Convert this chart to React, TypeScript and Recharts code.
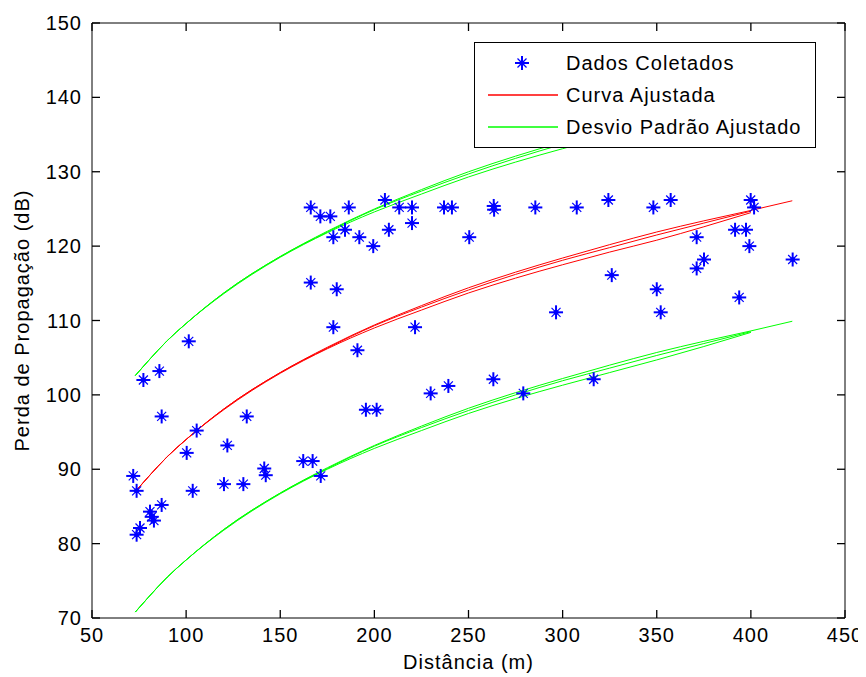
import { ComposedChart, Line, Scatter, XAxis, YAxis, Legend, Text } from "recharts";

// measured points (distance in m, loss in dB)
const distX = [
  71.9, 73.7, 73.7, 75.5, 77.3, 80.8, 81.7, 82.9, 85.8, 87.0, 87.0, 100.3, 101.4, 103.5, 105.6,
  120.1, 121.9, 130.4, 132.2, 141.5, 142.3, 162.2, 167.2, 171.5, 166.2, 171.3, 176.6, 186.4,
  178.2, 184.4, 192.0, 199.4, 205.6, 207.7, 213.2, 220.0, 220.0, 237.0, 241.2, 250.4, 263.4,
  263.6, 285.5, 307.5, 324.3, 348.2, 357.4, 166.2, 180.0, 178.2, 191.0, 221.6, 296.5, 195.5,
  201.2, 229.9, 239.3, 263.2, 279.1, 316.5, 326.1, 350.0, 352.1, 371.2, 371.2, 375.1, 391.6,
  397.4, 399.2, 399.9, 401.7, 393.8, 422.2,
];
const lossY = [
  89.1, 87.1, 81.2, 82.1, 102.0, 84.3, 83.6, 83.1, 103.2, 85.2, 97.1, 92.2, 107.2, 87.1, 95.2,
  88.0, 93.2, 88.0, 97.1, 90.1, 89.2, 91.1, 91.1, 89.1, 125.2, 124.0, 124.0, 125.2,
  121.2, 122.2, 121.2, 120.0, 126.2, 122.2, 125.2, 125.2, 123.1, 125.2, 125.2, 121.2, 125.4,
  124.9, 125.2, 125.2, 126.2, 125.2, 126.2, 115.1, 114.2, 109.1, 106.0, 109.1, 111.1, 98.0,
  98.0, 100.2, 101.2, 102.1, 100.2, 102.1, 116.1, 114.2, 111.1, 121.2, 117.0, 118.2, 122.2,
  122.2, 120.0, 126.2, 125.2, 113.1, 118.2,
];

// fitted curves, read along the distance grid
const curveX = [73, 80, 90, 100, 120, 150, 175, 200, 225, 250, 275, 300, 325, 350, 375, 400, 422];
const redA = [87.0, 89.0, 91.7, 94.0, 98.1, 103.0, 106.4, 109.4, 112.0, 114.4, 116.5, 118.4, 120.2, 121.9, 123.4, 124.8, 126.1];
const redB = [87.0, 89.0, 91.7, 94.0, 98.1, 103.0, 106.3, 109.3, 111.8, 114.1, 116.2, 118.1, 119.8, 121.5, 123.1, 124.7];
const redC = [87.0, 89.0, 91.7, 94.0, 98.0, 102.9, 106.2, 109.0, 111.4, 113.7, 115.7, 117.5, 119.2, 120.8, 122.6, 124.5];
const upA = [102.6, 104.6, 107.3, 109.6, 113.7, 118.6, 122.0, 125.0, 127.6, 130.0, 132.1, 134.0, 135.8, 137.5, 139.0, 140.4, 141.7];
const upB = [102.6, 104.6, 107.3, 109.6, 113.7, 118.6, 121.9, 124.9, 127.4, 129.7, 131.8, 133.7, 135.4, 137.1, 138.7, 140.3];
const upC = [102.6, 104.6, 107.3, 109.6, 113.6, 118.5, 121.8, 124.6, 127.0, 129.3, 131.3, 133.1, 134.8, 136.4, 138.2, 140.1];
const loA = [70.8, 72.8, 75.5, 77.8, 81.9, 86.8, 90.2, 93.2, 95.8, 98.2, 100.3, 102.2, 104.0, 105.7, 107.2, 108.6, 109.9];
const loB = [70.8, 72.8, 75.5, 77.8, 81.9, 86.8, 90.1, 93.1, 95.6, 97.9, 100.0, 101.9, 103.6, 105.3, 106.9, 108.5];
const loC = [70.8, 72.8, 75.5, 77.8, 81.8, 86.7, 90.0, 92.8, 95.2, 97.5, 99.5, 101.3, 103.0, 104.7, 106.5, 108.4];

const xTicks = [50, 100, 150, 200, 250, 300, 350, 400, 450];
const yTicks = [70, 80, 90, 100, 110, 120, 130, 140, 150];
const legendOrder = ["Dados Coletados", "Curva Ajustada", "Desvio Padrão Ajustado"];

const points = distX.map((x, i) => ({ x, y: lossY[i] }));
const toPts = (ys: number[]) => ys.map((y, i) => ({ x: curveX[i], y }));

const font = "'Liberation Sans', Arial, sans-serif";
const GAP = 10; // label gap from axis
const TICK = 8; // inward tick length

// MATLAB-style '*' marker
const Asterisk = (props: any) => {
  const { cx, cy } = props;
  if (cx == null || cy == null) return <g />;
  return (
    <g stroke="#0000ff" fill="#0000ff">
      <line x1={cx - 7} y1={cy} x2={cx + 7} y2={cy} strokeWidth={2} />
      <line x1={cx} y1={cy - 7} x2={cx} y2={cy + 7} strokeWidth={2} />
      <line x1={cx - 4.5} y1={cy - 4.5} x2={cx + 4.5} y2={cy + 4.5} strokeWidth={1.2} />
      <line x1={cx - 4.5} y1={cy + 4.5} x2={cx + 4.5} y2={cy - 4.5} strokeWidth={1.2} />
      <circle cx={cx} cy={cy} r={2.5} stroke="none" />
    </g>
  );
};

// ticks drawn inward, labels outside
const BottomTick = (props: any) => {
  const { x, y, payload } = props;
  return (
    <g>
      <path d={`M${x},${y - GAP}V${y - GAP - TICK}`} stroke="#000" strokeWidth={1.3} fill="none" />
      <Text x={x} y={y} textAnchor="middle" verticalAnchor="start" fontSize={20} fontFamily={font} letterSpacing={1} fill="#000">
        {payload.value}
      </Text>
    </g>
  );
};
const LeftTick = (props: any) => {
  const { x, y, payload } = props;
  return (
    <g>
      <path d={`M${x + GAP},${y}H${x + GAP + TICK}`} stroke="#000" strokeWidth={1.3} fill="none" />
      <Text x={x} y={y} textAnchor="end" verticalAnchor="middle" fontSize={20} fontFamily={font} letterSpacing={1} fill="#000">
        {payload.value}
      </Text>
    </g>
  );
};
const TopTick = (props: any) => (
  <path d={`M${props.x},${props.y}V${props.y + TICK}`} stroke="#000" strokeWidth={1.3} fill="none" />
);
const RightTick = (props: any) => (
  <path d={`M${props.x},${props.y}H${props.x - TICK}`} stroke="#000" strokeWidth={1.3} fill="none" />
);

// axis titles placed from the axis viewBox
const XTitle = (props: any) => {
  const vb = props.viewBox;
  return (
    <Text x={vb.x + vb.width / 2} y={vb.y + vb.height - 8} textAnchor="middle" verticalAnchor="end" fontSize={20} fontFamily={font} letterSpacing={1} fill="#000">
      Distância (m)
    </Text>
  );
};
const YTitle = (props: any) => {
  const vb = props.viewBox;
  const cx = vb.x + 14;
  const cy = vb.y + vb.height / 2;
  return (
    <Text x={cx} y={cy} angle={-90} textAnchor="middle" verticalAnchor="middle" fontSize={20} fontFamily={font} letterSpacing={1} fill="#000">
      Perda de Propagação (dB)
    </Text>
  );
};

const renderLegend = (props: any) => {
  const items = (props.payload || [])
    .filter((p: any) => legendOrder.includes(p.value))
    .sort((a: any, b: any) => legendOrder.indexOf(a.value) - legendOrder.indexOf(b.value));
  return (
    <div
      style={{
        width: 342,
        height: 106,
        boxSizing: "border-box",
        border: "1px solid #000",
        background: "#fff",
        paddingTop: 4,
        fontFamily: font,
        fontSize: 20,
        letterSpacing: 1,
        color: "#000",
      }}
    >
      {items.map((entry: any) => (
        <div key={entry.value} style={{ display: "flex", alignItems: "center", height: 32 }}>
          <svg width={90} height={20} style={{ marginLeft: 13 }}>
            {entry.value === legendOrder[0] ? (
              <Asterisk cx={34} cy={10} />
            ) : (
              <line x1={0} y1={10} x2={70} y2={10} stroke={entry.color} strokeWidth={1.5} />
            )}
          </svg>
          <span style={{ marginLeft: -12 }}>{entry.value}</span>
        </div>
      ))}
    </div>
  );
};

export default function App() {
  return (
    <div style={{ width: 858, height: 669 }}>
      <ComposedChart width={858} height={669} margin={{ top: 14, right: 20, bottom: 0, left: 0 }}>
        <XAxis
          type="number"
          dataKey="x"
          domain={[50, 450]}
          ticks={xTicks}
          height={59}
          tickSize={0}
          tickMargin={GAP}
          tickLine={false}
          stroke="#000"
          tick={BottomTick}
          label={XTitle}
        />
        <XAxis
          xAxisId="top"
          orientation="top"
          type="number"
          dataKey="x"
          domain={[50, 450]}
          ticks={xTicks}
          height={1}
          tickSize={0}
          tickMargin={0}
          tickLine={false}
          tick={TopTick}
          stroke="#000"
        />
        <YAxis
          type="number"
          domain={[70, 150]}
          ticks={yTicks}
          width={84}
          tickSize={0}
          tickMargin={GAP}
          tickLine={false}
          stroke="#000"
          tick={LeftTick}
          label={YTitle}
        />
        <YAxis
          yAxisId="right"
          orientation="right"
          type="number"
          domain={[70, 150]}
          ticks={yTicks}
          width={1}
          tickSize={0}
          tickMargin={0}
          tickLine={false}
          tick={RightTick}
          stroke="#000"
        />
        <Line type="monotone" dataKey="y" name="Curva Ajustada" data={toPts(redA)} stroke="#ff0000" dot={false} isAnimationActive={false} />
        <Line type="monotone" dataKey="y" name="redB" data={toPts(redB)} stroke="#ff0000" dot={false} isAnimationActive={false} legendType="none" />
        <Line type="monotone" dataKey="y" name="redC" data={toPts(redC)} stroke="#ff0000" dot={false} isAnimationActive={false} legendType="none" />
        <Line type="monotone" dataKey="y" name="Desvio Padrão Ajustado" data={toPts(upA)} stroke="#00ff00" dot={false} isAnimationActive={false} />
        <Line type="monotone" dataKey="y" name="upB" data={toPts(upB)} stroke="#00ff00" dot={false} isAnimationActive={false} legendType="none" />
        <Line type="monotone" dataKey="y" name="upC" data={toPts(upC)} stroke="#00ff00" dot={false} isAnimationActive={false} legendType="none" />
        <Line type="monotone" dataKey="y" name="loA" data={toPts(loA)} stroke="#00ff00" dot={false} isAnimationActive={false} legendType="none" />
        <Line type="monotone" dataKey="y" name="loB" data={toPts(loB)} stroke="#00ff00" dot={false} isAnimationActive={false} legendType="none" />
        <Line type="monotone" dataKey="y" name="loC" data={toPts(loC)} stroke="#00ff00" dot={false} isAnimationActive={false} legendType="none" />
        {/* scatter sits on the mirrored frame axes (same domains) */}
        <Scatter
          name="Dados Coletados"
          xAxisId="top"
          yAxisId="right"
          data={points}
          dataKey="y"
          shape={Asterisk}
          fill="#0000ff"
          isAnimationActive={false}
        />
        <Legend
          layout="horizontal"
          align="center"
          verticalAlign="middle"
          content={renderLegend}
          wrapperStyle={{ left: 466, top: 34, width: 342, height: 106 }}
        />
      </ComposedChart>
    </div>
  );
}
